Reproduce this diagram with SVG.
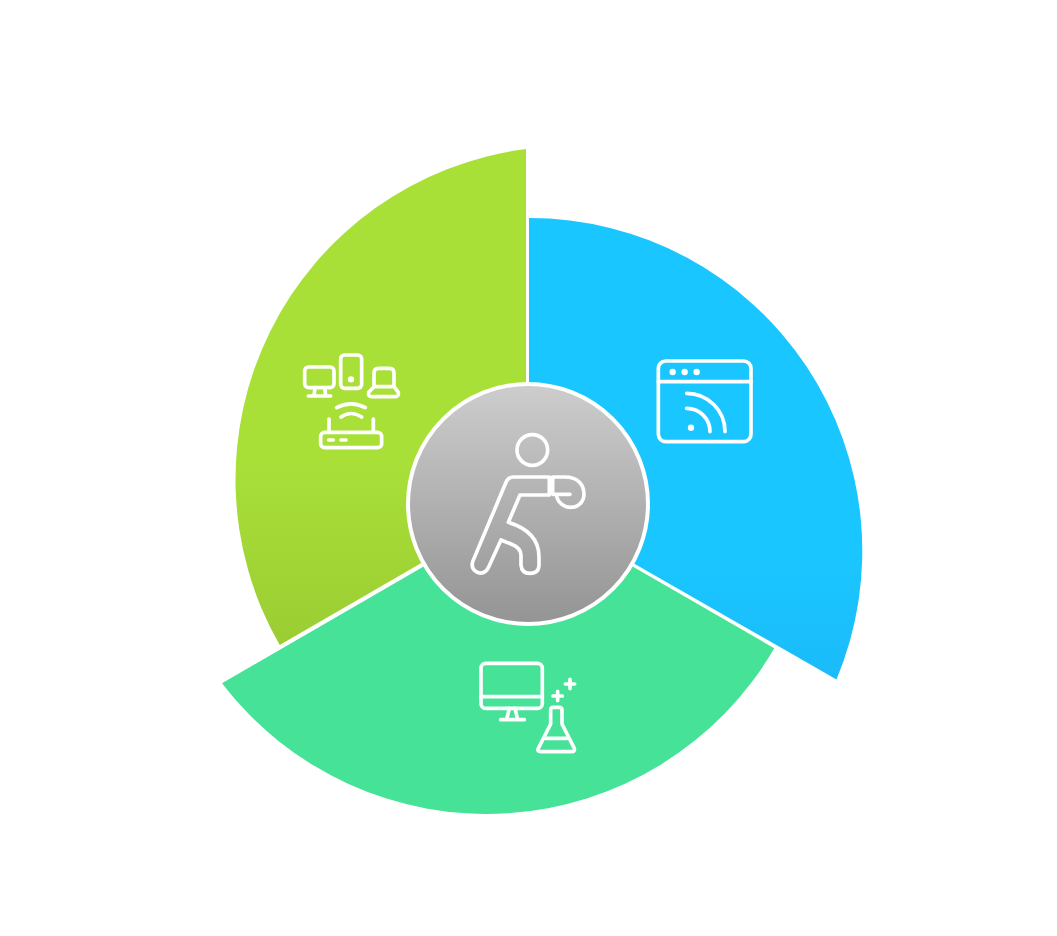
<svg xmlns="http://www.w3.org/2000/svg" width="1057" height="936" viewBox="0 0 1057 936">
<style>
.ic{fill:none;stroke:#fff;stroke-width:11;stroke-linecap:round;stroke-linejoin:round}
.dot{fill:#fff}
</style>
<defs>
<linearGradient id="gLime" x1="0" y1="0" x2="0" y2="1"><stop offset="0" stop-color="#a9e038"/><stop offset="0.62" stop-color="#a9e038"/><stop offset="1" stop-color="#9bcd33"/></linearGradient>
<linearGradient id="gBlue" x1="0" y1="0" x2="0" y2="1"><stop offset="0" stop-color="#1ac6ff"/><stop offset="0.75" stop-color="#1ac6ff"/><stop offset="1" stop-color="#1abbfa"/></linearGradient>
<linearGradient id="gGrey" x1="0" y1="0" x2="0" y2="1"><stop offset="0" stop-color="#cdcdcd"/><stop offset="1" stop-color="#949494"/></linearGradient>
</defs>
<rect width="1057" height="936" fill="#fff"/>
<g id="segment-lime">
<path d="M526 149A333 333 0 0 0 279.700 645L526 502.500Z" fill="url(#gLime)"/>
<g class="ic" transform="translate(290 345) scale(.3333)">
<rect x="44" y="66" width="88" height="62" rx="12"/>
<path d="M75 128L72 152M104 128L107 152M55 153H122"/>
<rect x="152" y="30" width="63" height="100" rx="12"/>
<circle class="dot" cx="183" cy="103" r="4" stroke="#fff"/>
<path d="M252 125V84Q252 70 266 70H298Q312 70 312 84V125M252 125H312L325 142Q327 155 316 155H246Q233 155 236 142Z"/>
<path d="M140 188Q183 165 226 188M153 216Q183 195 215 216"/>
<rect x="92" y="262" width="183" height="46" rx="12"/>
<path d="M117 222V262M250 222V262M116 285H130M153 285H168"/>
</g>
</g>
<g id="segment-blue">
<path d="M529 218A333 333 0 0 1 836.500 679.500L529 503.400Z" fill="url(#gBlue)"/>
<g class="ic" transform="translate(645 350) scale(.3333)">
<rect x="40" y="33" width="278" height="242" rx="22"/>
<path d="M40 95H318"/>
<circle class="dot" cx="83" cy="66" r="4" stroke="#fff"/>
<circle class="dot" cx="119" cy="66" r="4" stroke="#fff"/>
<circle class="dot" cx="155" cy="66" r="4" stroke="#fff"/>
<circle class="dot" cx="138" cy="233" r="4" stroke="#fff"/>
<path d="M125 175A70 70 0 0 1 195 245M125 130A115 115 0 0 1 240 245"/>
</g>
</g>
<g id="segment-green">
<path d="M222 683.300A333 333 0 0 0 774.300 648.300L528 506.200Z" fill="#45e297"/>
<g class="ic" transform="translate(470 650) scale(.3333)">
<rect x="33" y="40" width="184" height="135" rx="14"/>
<path d="M33 140H217M118 175L110 208M135 175L143 208M92 209H163"/>
<path d="M263 124V152M249 138H277M300 88V116M286 102H314"/>
<path d="M242 180Q242 172 250 172H268Q276 172 276 180V222L313 295Q316 305 305 305H212Q200 305 205 295L242 222Z"/>
<path d="M225 265H292"/>
</g>
</g>
<g id="center">
<circle cx="528" cy="504" r="120" fill="url(#gGrey)" stroke="#fff" stroke-width="4"/>
<g class="ic" transform="translate(400 375) scale(.3333)">
<circle cx="397" cy="225" r="46"/>
<path d="M448 306H340Q325 306 318 322L218 560Q212 582 232 592Q254 600 265 578L303 495L335 508Q365 520 363 545V570Q365 595 390 595Q417 595 417 570V545Q417 470 325 442L360 360H448Z"/>
<path d="M458 312V358H510M458 306H495C535 306 552 330 552 358C552 380 535 397 512 397C490 397 475 382 470 365"/>
</g>
</g>
<g id="connectors"/>
</svg>
